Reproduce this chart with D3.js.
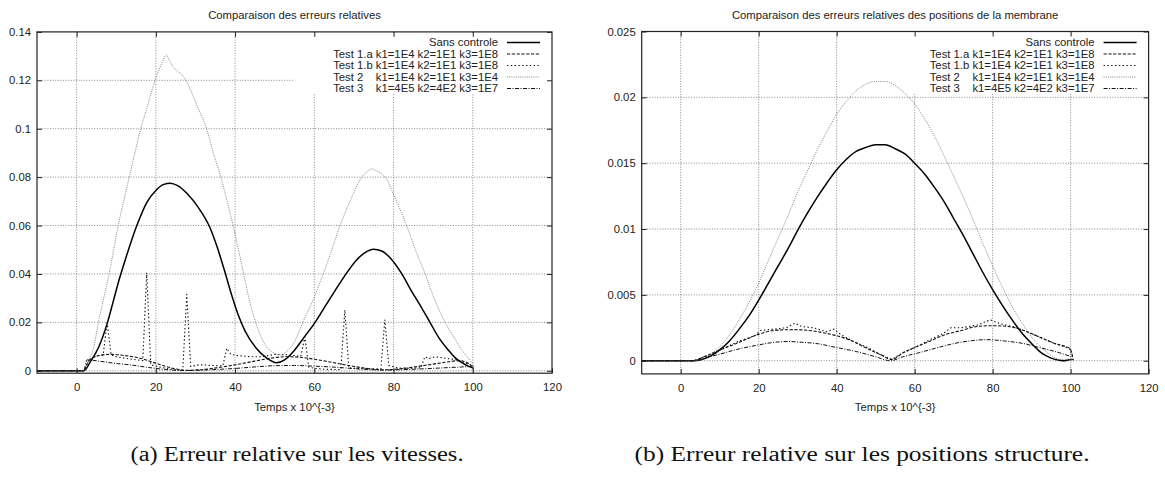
<!DOCTYPE html>
<html>
<head>
<meta charset="utf-8">
<script src="https://cdn.jsdelivr.net/npm/d3@7"></script>
<style>
  html, body { margin: 0; padding: 0; background: #fff; }
  svg text { font-family: "Liberation Sans", Arial, Helvetica, sans-serif; }
  .cap { font-family: "Liberation Serif", "Times New Roman", serif; }
</style>
</head>
<body>
<svg id="chart" width="1165" height="479"></svg>
<script>
// ---------------- DATA ----------------
const xTickValues = [0, 20, 40, 60, 80, 100, 120];
const xTickLabels = ["0", "20", "40", "60", "80", "100", "120"];
const xLabel = "Temps x 10^{-3}";

const legendLabels = [
  "Sans controle",
  "Test 1.a k1=1E4 k2=1E1 k3=1E8",
  "Test 1.b k1=1E4 k2=1E1 k3=1E8",
  "Test 2    k1=1E4 k2=1E1 k3=1E4",
  "Test 3    k1=4E5 k2=4E2 k3=1E7"
];

// ----- Chart (a): vitesses -----
const titleA = "Comparaison des erreurs relatives";
const captionA = "(a) Erreur relative sur les vitesses.";
const yTicksA = [0, 0.02, 0.04, 0.06, 0.08, 0.1, 0.12, 0.14];
const yTickLabelsA = ["0", "0.02", "0.04", "0.06", "0.08", "0.1", "0.12", "0.14"];

const aSansX = [-10, 1.8, 3.5, 5.5, 7.8, 9.3, 10.8, 12.5, 15.2, 17.7, 20, 22, 23.6, 25.5, 28, 30.7, 33.7, 35.5, 37.4, 39, 40.8, 42.5, 45.4, 48, 50.5, 52.5, 55, 57.5, 60.2, 62.3, 65, 67.8, 70.5, 73, 74.9, 77, 79.5, 82.1, 84.5, 87.1, 89.2, 91.5, 93.8, 95.8, 97.6, 99, 100.2];
const aSansY = [0, 0, 0.0038, 0.0095, 0.02, 0.029, 0.038, 0.047, 0.06, 0.0695, 0.0745, 0.077, 0.0775, 0.0765, 0.073, 0.0675, 0.059, 0.051, 0.041, 0.032, 0.023, 0.0165, 0.0092, 0.0052, 0.0033, 0.0045, 0.0085, 0.014, 0.02, 0.0255, 0.0325, 0.0395, 0.0455, 0.049, 0.0502, 0.0495, 0.046, 0.04, 0.033, 0.026, 0.02, 0.0135, 0.0086, 0.005, 0.003, 0.0018, 0.001];

const aT1aX = [-10, 1.8, 3, 5, 8.4, 12, 16, 20, 24.4, 27.8, 31, 35.3, 40.4, 45, 49, 53, 57, 61, 65, 70, 74, 77.5, 81, 85, 89, 93, 96.5, 99, 100.2];
const aT1aY = [0, 0, 0.004, 0.006, 0.0068, 0.0063, 0.0052, 0.0031, 0.001, 0.0002, 0.0004, 0.0012, 0.0026, 0.004, 0.0052, 0.0058, 0.0055, 0.0045, 0.0033, 0.0018, 0.0008, 0.0004, 0.0007, 0.0015, 0.0025, 0.0035, 0.0042, 0.003, 0.0015];

const aT1bX = [-10, 1.8, 3, 5, 6.7, 7.7, 8.7, 10, 13, 16.7, 17.7, 18.7, 21, 24, 26.8, 27.8, 28.8, 31, 34, 36.9, 37.9, 38.9, 41, 44, 47, 50, 53, 55.5, 56.6, 57.6, 58.6, 60, 63, 66.7, 67.7, 68.7, 71, 74, 76.8, 77.8, 78.8, 81, 84, 86.9, 87.9, 88.9, 90.5, 93, 96, 98.5, 100.2];
const aT1bY = [0, 0, 0.004, 0.0062, 0.0065, 0.02, 0.0065, 0.0058, 0.005, 0.0042, 0.0405, 0.0025, 0.0015, 0.0006, 0.0002, 0.0316, 0.0018, 0.0025, 0.0022, 0.002, 0.0093, 0.0068, 0.0062, 0.0058, 0.0058, 0.0068, 0.0066, 0.0062, 0.006, 0.014, 0.0015, 0.001, 0.0006, 0.0005, 0.0251, 0.0012, 0.0009, 0.0008, 0.0008, 0.021, 0.0022, 0.0012, 0.001, 0.0012, 0.0058, 0.005, 0.0058, 0.0052, 0.0045, 0.003, 0.0018];

const aT2X = [-10, 1.8, 3, 4.5, 5.5, 6.7, 8.2, 10.5, 13.3, 16.2, 18, 19.8, 21.5, 22.6, 23.5, 24.4, 25.5, 26.9, 28.5, 30.5, 32.8, 34.5, 36.4, 38, 39.5, 41, 42.3, 43.5, 44.8, 46.3, 48, 50, 51.5, 53, 55, 57.1, 59.5, 61.9, 64, 66.5, 69, 72, 73.5, 74.5, 75.8, 77.9, 80.5, 83.3, 85.5, 88, 90, 93, 95, 97.2, 99, 100.2];
const aT2Y = [0, 0, 0.004, 0.011, 0.02, 0.029, 0.04, 0.06, 0.08, 0.1, 0.11, 0.12, 0.127, 0.1304, 0.128, 0.1254, 0.1238, 0.1217, 0.117, 0.109, 0.1, 0.09, 0.08, 0.07, 0.06, 0.049, 0.039, 0.03, 0.022, 0.015, 0.0098, 0.0072, 0.0066, 0.008, 0.012, 0.02, 0.0285, 0.0385, 0.048, 0.06, 0.07, 0.08, 0.0825, 0.0834, 0.0825, 0.08, 0.071, 0.06, 0.05, 0.04, 0.031, 0.02, 0.0145, 0.0086, 0.005, 0.0025];

const aT3X = [-10, 1.8, 2.6, 6, 10, 13.7, 18, 22, 27, 32, 36, 40.4, 45, 50, 55, 60, 65, 70, 74, 77.5, 81, 86, 90, 95, 100.2];
const aT3Y = [0, 0, 0.0045, 0.0039, 0.003, 0.0024, 0.0014, 0.0006, 0.0001, 0.0003, 0.0006, 0.001, 0.0016, 0.0021, 0.0022, 0.0019, 0.0015, 0.0009, 0.0005, 0.0003, 0.0004, 0.0007, 0.001, 0.0014, 0.0018];

// ----- Chart (b): positions -----
const titleB = "Comparaison des erreurs relatives des positions de la membrane";
const captionB = "(b) Erreur relative sur les positions structure.";
const yTicksB = [0, 0.005, 0.01, 0.015, 0.02, 0.025];
const yTickLabelsB = ["0", "0.005", "0.01", "0.015", "0.02", "0.025"];

const bSansX = [-10, 3.2, 5, 7.5, 10, 12.5, 15, 17.5, 20, 22.5, 25, 27.5, 30, 32.5, 35, 37.5, 40, 42.5, 45, 47.5, 50, 52.5, 55, 57.5, 60, 62.5, 65, 67.5, 70, 72.5, 75, 77.5, 80, 82.5, 85, 87.5, 90, 92.5, 95, 97.5, 98.5, 100, 100.8];
const bSansY = [0, 0, 0.00006, 0.00033, 0.00082, 0.0015, 0.0024, 0.0034, 0.0046, 0.0059, 0.0072, 0.0085, 0.0099, 0.0112, 0.0124, 0.0135, 0.0145, 0.0153, 0.0159, 0.0162, 0.0164, 0.0164, 0.0161, 0.0157, 0.015, 0.0142, 0.0132, 0.0121, 0.0108, 0.0095, 0.0081, 0.0067, 0.0054, 0.0042, 0.0031, 0.0021, 0.0013, 0.0006, 0.0002, 0.00002, 0, 0.0001, 0.0001];

const bT1aX = [-10, 3.2, 6, 10, 15, 20, 24, 28.9, 33, 37, 40, 44, 48, 51, 54.1, 57, 60, 64, 68, 72, 76, 79.7, 84, 88, 92, 96, 99.8, 100.6];
const bT1aY = [0, 0, 0.0003, 0.0008, 0.0014, 0.002, 0.0023, 0.00236, 0.0023, 0.0021, 0.0019, 0.0015, 0.0009, 0.0005, 0.0001, 0.0006, 0.001, 0.0015, 0.002, 0.0023, 0.0026, 0.00266, 0.0026, 0.0023, 0.0018, 0.0013, 0.00094, 0.0002];

const bT1bX = [-10, 3.2, 6, 10, 15, 19, 20.5, 24, 27, 29.3, 31, 34, 37.5, 39.3, 41, 44, 48, 51, 54.1, 57, 60, 64, 67.5, 69.3, 72, 76, 79.4, 82, 85, 88, 92, 96, 99.8, 100.6];
const bT1bY = [0, 0, 0.0003, 0.0008, 0.0015, 0.0019, 0.0023, 0.0024, 0.0025, 0.00285, 0.0026, 0.0025, 0.0022, 0.0024, 0.002, 0.0015, 0.001, 0.0005, 0.0001, 0.0006, 0.001, 0.0016, 0.0021, 0.0025, 0.0025, 0.0027, 0.0031, 0.0028, 0.0026, 0.0023, 0.0018, 0.0013, 0.0009, 0.0002];

const bT2X = [-10, 3.2, 5, 7.5, 10, 12.5, 15, 17.5, 20, 22.5, 25, 27.5, 30, 32.5, 35, 37.5, 40, 42.5, 45, 47.5, 50, 52.5, 55, 57.5, 60, 62.5, 65, 67.5, 70, 72.5, 75, 77.5, 80, 82.5, 85, 87.5, 90, 92.5, 95, 97.5, 100, 100.8];
const bT2Y = [0, 0, 0.00008, 0.00043, 0.00106, 0.00195, 0.0031, 0.0044, 0.0059, 0.0076, 0.0093, 0.011, 0.0128, 0.0144, 0.016, 0.0174, 0.0187, 0.0197, 0.0205, 0.021, 0.0212, 0.0212, 0.0209, 0.0203, 0.0195, 0.0184, 0.0171, 0.0156, 0.014, 0.0124, 0.0107, 0.0089, 0.0072, 0.0056, 0.0041, 0.0029, 0.0018, 0.001, 0.0004, 0.0001, 0.0001, 0.0001];

const bT3X = [-10, 3.2, 6, 10, 15, 20, 24, 27.5, 31, 35, 40, 45, 50, 53.8, 57, 61, 66, 70, 74, 78.5, 83, 88, 92, 96, 100.3];
const bT3Y = [0, 0, 0.0002, 0.0005, 0.0009, 0.0012, 0.0014, 0.00146, 0.0014, 0.0013, 0.001, 0.0007, 0.0003, 0, 0.0003, 0.0006, 0.001, 0.0013, 0.0015, 0.0016, 0.0015, 0.0013, 0.001, 0.0007, 0.0003];

// ---------------- STYLES ----------------
const seriesStyles = [
  { stroke: "#000", width: 1.5, dash: null, curve: d3.curveMonotoneX },
  { stroke: "#111", width: 1.1, dash: "3.2,1.6", curve: d3.curveMonotoneX },
  { stroke: "#111", width: 1.1, dash: "1.4,2.4", curve: d3.curveLinear },
  { stroke: "#777", width: 0.9, dash: "1,1.2", curve: d3.curveMonotoneX },
  { stroke: "#111", width: 1.0, dash: "4,1.5,1,1.5", curve: d3.curveMonotoneX }
];

const svg = d3.select("#chart");

function zip(xs, ys) { return xs.map((x, i) => [x, ys[i]]); }

function drawChart(cfg) {
  const g = svg.append("g");
  const x = d3.scaleLinear().domain([-10, 120]).range([cfg.left, cfg.right]);
  const y = d3.scaleLinear().domain(cfg.yDomain).range([cfg.bottom, cfg.top]);

  // grid
  const grid = g.append("g").attr("stroke", "#555").attr("stroke-width", 0.7).attr("stroke-dasharray", "1,1.6");
  xTickValues.forEach(v => {
    if (v <= -10 || v >= 120) return;
    grid.append("line").attr("x1", x(v)).attr("x2", x(v)).attr("y1", cfg.top).attr("y2", cfg.bottom);
  });
  cfg.yTicks.forEach(v => {
    if (v === cfg.yTicks[cfg.yTicks.length - 1] && Math.abs(y(v) - cfg.top) < 1) return;
    grid.append("line").attr("x1", cfg.left).attr("x2", cfg.right).attr("y1", y(v)).attr("y2", y(v));
  });

  // opaque key box (masks grid)
  g.append("rect").attr("x", cfg.keyLeft).attr("y", cfg.top + 1)
    .attr("width", cfg.right - 1 - cfg.keyLeft).attr("height", cfg.keyBottom - cfg.top - 1)
    .attr("fill", "#fff");

  // curves
  cfg.series.forEach((s, i) => {
    const st = seriesStyles[i];
    const line = d3.line().x(d => x(d[0])).y(d => y(d[1])).curve(st.curve);
    g.append("path").attr("d", line(zip(s[0], s[1])))
      .attr("fill", "none").attr("stroke", st.stroke).attr("stroke-width", st.width)
      .attr("stroke-dasharray", st.dash).attr("stroke-linejoin", "round");
  });

  // border
  g.append("rect").attr("x", cfg.left).attr("y", cfg.top)
    .attr("width", cfg.right - cfg.left).attr("height", cfg.bottom - cfg.top)
    .attr("fill", "none").attr("stroke", "#222").attr("stroke-width", 1.2);

  // axes with inward ticks (all four sides)
  const tl = 5;
  const xb = d3.axisBottom(x).tickValues(xTickValues).tickFormat((d, i) => xTickLabels[i]).tickSizeInner(-tl).tickSizeOuter(0).tickPadding(10);
  const xa = g.append("g").attr("transform", `translate(0,${cfg.bottom})`).call(xb);
  const xt = d3.axisTop(x).tickValues(xTickValues.filter(v => v > -10 && v < 120)).tickFormat("").tickSizeInner(-tl).tickSizeOuter(0);
  const xa2 = g.append("g").attr("transform", `translate(0,${cfg.top})`).call(xt);
  const yl = d3.axisLeft(y).tickValues(cfg.yTicks).tickFormat((d, i) => cfg.yTickLabels[i]).tickSizeInner(-tl).tickSizeOuter(0).tickPadding(6);
  const ya = g.append("g").attr("transform", `translate(${cfg.left},0)`).call(yl);
  const yr = d3.axisRight(y).tickValues(cfg.yTicks).tickFormat("").tickSizeInner(-tl).tickSizeOuter(0);
  const ya2 = g.append("g").attr("transform", `translate(${cfg.right},0)`).call(yr);
  [xa, xa2, ya, ya2].forEach(a => {
    a.select(".domain").remove();
    a.selectAll(".tick line").attr("stroke", "#222").attr("stroke-width", 1);
    a.selectAll("text").attr("font-family", "Liberation Sans, Arial, sans-serif").attr("font-size", 11.3).attr("fill", "#222");
  });
  xa.selectAll("text").attr("dy", "0.71em");

  // title
  const cx = (cfg.left + cfg.right) / 2;
  g.append("text").attr("x", cx).attr("y", 19).attr("text-anchor", "middle")
    .attr("font-size", 11.3).attr("fill", "#222").text(cfg.title);
  // x label
  g.append("text").attr("x", cx).attr("y", 411).attr("text-anchor", "middle")
    .attr("font-size", 11.3).attr("fill", "#222").text(xLabel);

  // legend
  const rowY = [42.5, 54, 65.5, 77, 88.5];
  const sx1 = cfg.right - 45, sx2 = cfg.right - 12;
  legendLabels.forEach((lab, i) => {
    const st = seriesStyles[i];
    g.append("text").attr("x", sx1 - 9).attr("y", rowY[i]).attr("dy", "0.35em")
      .attr("text-anchor", "end").attr("font-size", 11.3).attr("fill", "#222")
      .style("white-space", "pre").attr("xml:space", "preserve").text(lab);
    g.append("line").attr("x1", sx1).attr("x2", sx2).attr("y1", rowY[i]).attr("y2", rowY[i])
      .attr("stroke", st.stroke).attr("stroke-width", st.width).attr("stroke-dasharray", st.dash);
  });

  // caption
  g.append("text").attr("class", "cap").attr("x", cfg.capX).attr("y", 461)
    .attr("text-anchor", "middle").attr("font-size", 20).attr("fill", "#111")
    .attr("textLength", cfg.capW).attr("lengthAdjust", "spacingAndGlyphs")
    .text(cfg.caption);
}

drawChart({
  left: 37, right: 552, top: 31.9, bottom: 373.2,
  yDomain: [-0.001, 0.14], yTicks: yTicksA, yTickLabels: yTickLabelsA,
  title: titleA, caption: captionA, capX: 297, capW: 333,
  keyLeft: 293, keyBottom: 94,
  series: [[aSansX, aSansY], [aT1aX, aT1aY], [aT1bX, aT1bY], [aT2X, aT2Y], [aT3X, aT3Y]]
});

drawChart({
  left: 641.7, right: 1148.6, top: 31.5, bottom: 373.9,
  yDomain: [-0.001, 0.025], yTicks: yTicksB, yTickLabels: yTickLabelsB,
  title: titleB, caption: captionB, capX: 862, capW: 455,
  keyLeft: 890, keyBottom: 94,
  series: [[bSansX, bSansY], [bT1aX, bT1aY], [bT1bX, bT1bY], [bT2X, bT2Y], [bT3X, bT3Y]]
});
</script>
</body>
</html>
